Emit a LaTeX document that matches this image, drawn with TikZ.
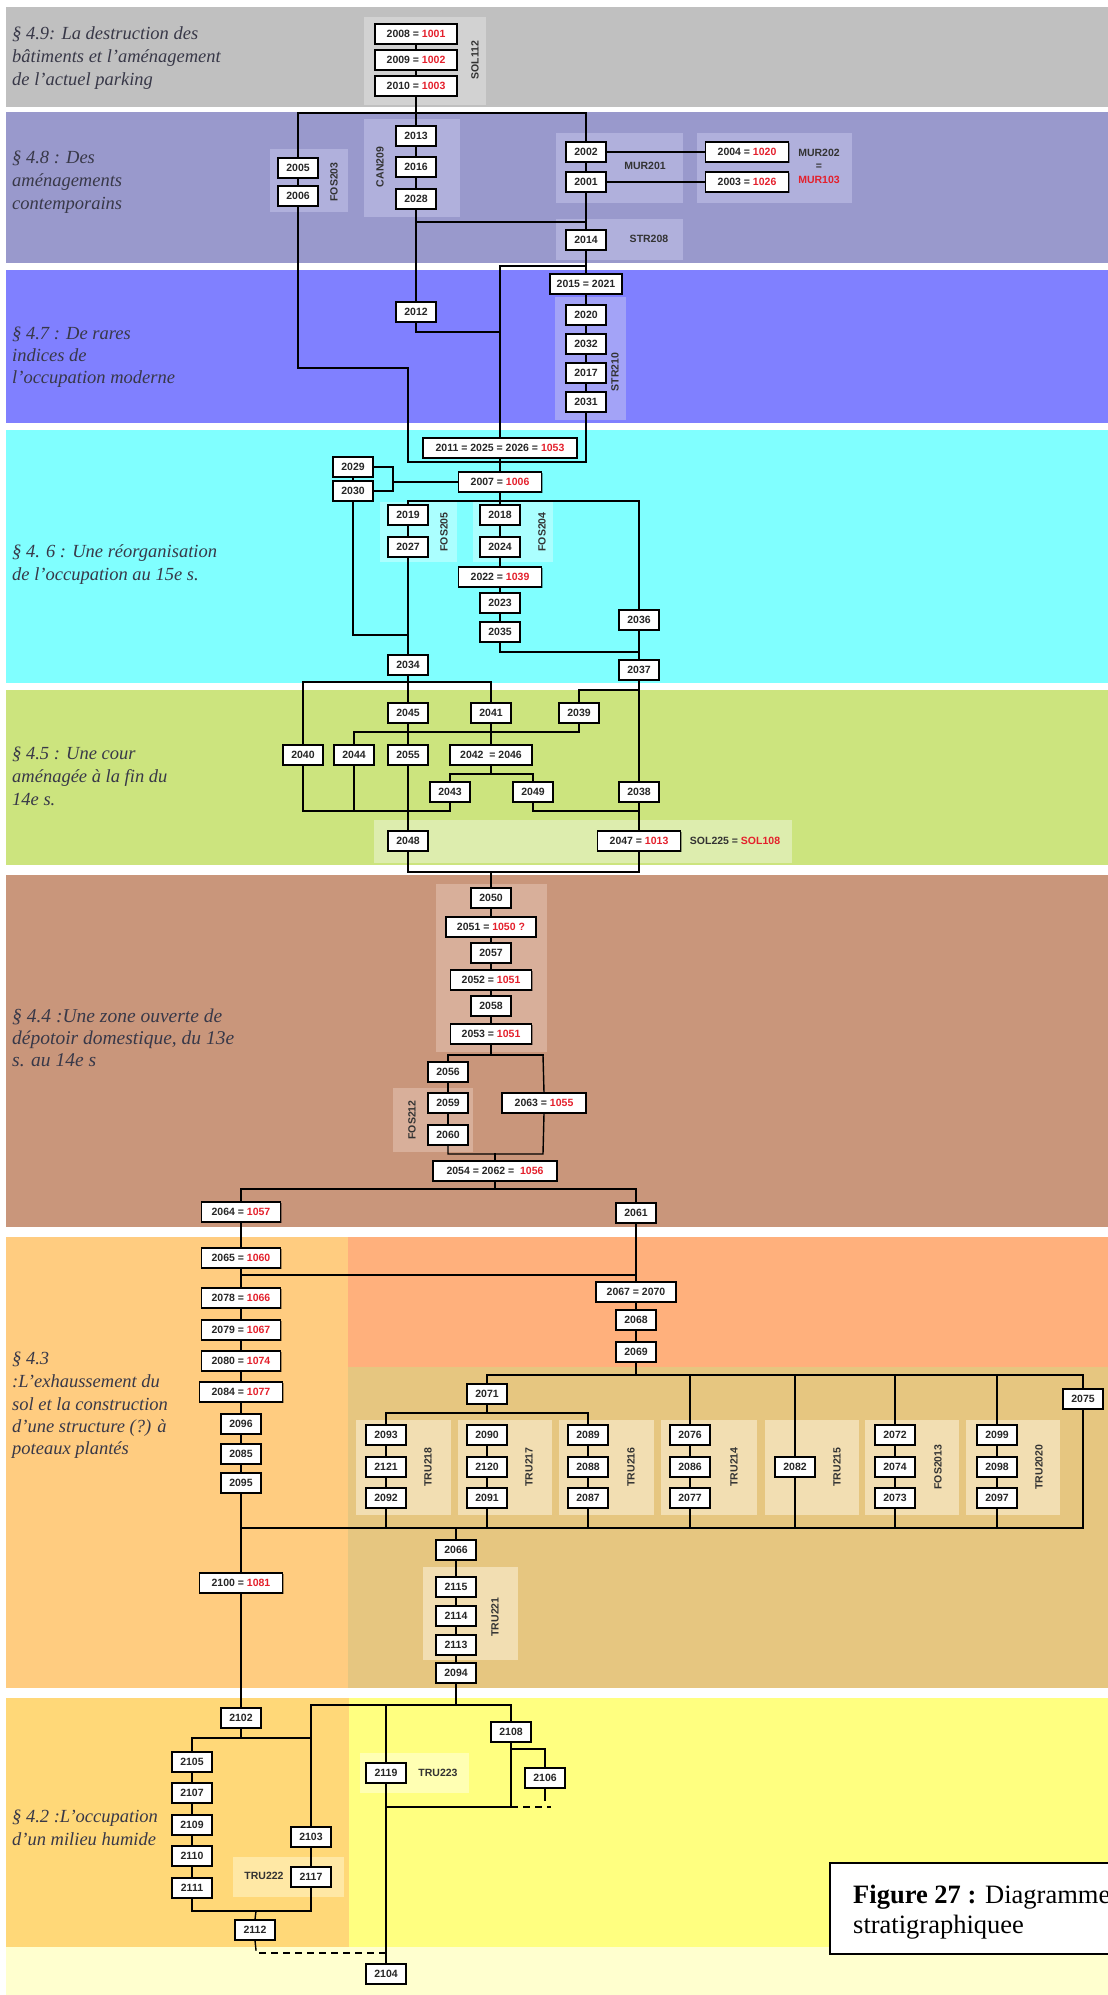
\documentclass[tikz,border=0pt]{standalone}
\usepackage{fontspec}
\setmainfont{Liberation Serif}
\setsansfont{Liberation Sans}
\usetikzlibrary{shadows}
\definecolor{cgrey}{HTML}{C0C0C0}\definecolor{cgreyg}{HTML}{D2D2D2}
\definecolor{cpur}{HTML}{9999CC}\definecolor{cpurg}{HTML}{B0B0DC}
\definecolor{cblue}{HTML}{8080FF}\definecolor{cblueg}{HTML}{A3A3F7}
\definecolor{ccyan}{HTML}{80FFFF}\definecolor{ccyang}{HTML}{ABFFFF}
\definecolor{cgreen}{HTML}{CCE47E}\definecolor{cgreeng}{HTML}{DDEDAE}
\definecolor{cbrown}{HTML}{C9967B}\definecolor{cbrowng}{HTML}{D8AF9A}
\definecolor{corL}{HTML}{FFCC80}\definecolor{corR}{HTML}{FFB07C}
\definecolor{ctan}{HTML}{E6C680}\definecolor{ctang}{HTML}{F2DEB2}
\definecolor{cyelL}{HTML}{FFD878}\definecolor{cyelR}{HTML}{FFFF80}
\definecolor{cyelLg}{HTML}{FFE8A5}\definecolor{cyelRg}{HTML}{FFFFB3}
\definecolor{cpale}{HTML}{FFFFCF}
\definecolor{cred}{HTML}{E4202C}
\definecolor{ctxt}{HTML}{383848}
\newcommand{\rd}[1]{\textcolor{cred}{#1}}
\begin{document}
\begin{tikzpicture}[x=1pt,y=-1pt,
  bx/.style={draw=black, fill=white, line width=1.1pt, minimum height=20pt, minimum width=40pt, inner sep=1pt,
    font=\sffamily\bfseries\fontsize{10.5}{12}\selectfont, text=black!85,
    drop shadow={shadow xshift=1.2pt, shadow yshift=-1.2pt, opacity=0.35, fill=black}},
  ln/.style={line width=1.4pt, line cap=rect},
  tk/.style={line width=2.2pt, line cap=rect},
  dsh/.style={line width=1.6pt, dash pattern=on 7pt off 5pt},
  grl/.style={font=\sffamily\bfseries\fontsize{10.5}{13.5}\selectfont, text=black!80, inner sep=0pt, align=center},
  sect/.style={font=\fontsize{18.5}{23}\selectfont\itshape, text=ctxt, inner sep=0pt, anchor=base west},
  sectb/.style={sect, font=\fontsize{19.5}{23}\selectfont\itshape}]
\useasboundingbox (0,0) rectangle (1108,1995);
\fill[white] (0,0) rectangle (1108,1995);
% ---- bands
\fill[cgrey] (6,7) rectangle (1108,107);
\fill[cpur] (6,112) rectangle (1108,263);
\fill[cblue] (6,270) rectangle (1108,423);
\fill[ccyan] (6,430) rectangle (1108,683);
\fill[cgreen] (6,690) rectangle (1108,865);
\fill[cbrown] (6,875) rectangle (1108,1227);
\fill[corL] (6,1237) rectangle (348,1688);
\fill[corR] (348,1237) rectangle (1108,1367);
\fill[ctan] (348,1367) rectangle (1108,1688);
\fill[cyelL] (6,1698) rectangle (349,1947);
\fill[cyelR] (349,1698) rectangle (1108,1947);
\fill[cpale] (6,1947) rectangle (1108,1995);
% ---- group backgrounds
\fill[cgreyg] (364,17) rectangle (486,105);
\fill[cpurg] (270,149) rectangle (348,212);
\fill[cpurg] (364,119) rectangle (460,217);
\fill[cpurg] (556,133) rectangle (683,203);
\fill[cpurg] (697,133) rectangle (852,203);
\fill[cpurg] (556,219) rectangle (683,260);
\fill[cblueg] (555,297) rectangle (626,420);
\fill[ccyang] (380,502) rectangle (457,562);
\fill[ccyang] (473,502) rectangle (553,562);
\fill[cgreeng] (374,820) rectangle (792,863);
\fill[cbrowng] (436,884) rectangle (547,1052);
\fill[cbrowng] (393,1088) rectangle (473,1152);
\foreach \xa/\xb in {356/451,458/552,559/654,661/757,765/859,865/959,966/1060}
  \fill[ctang] (\xa,1420) rectangle (\xb,1515);
\fill[ctang] (423,1567) rectangle (518,1660);
\fill[cyelLg] (233,1857) rectangle (344,1897);
\fill[cyelRg] (360,1753) rectangle (469,1793);
% ---- section texts
\node[sect] (s9a) at (12,39) {§ 4.9: La destruction des};
\node[sect] (s9b) at (12,62) {bâtiments et l’aménagement};
\node[sect] (s9c) at (12,85) {de l’actuel parking};
\node[sect] (s8a) at (12,163) {§ 4.8 : Des};
\node[sect] (s8b) at (12,186) {aménagements};
\node[sect] (s8c) at (12,209) {contemporains};
\node[sect] (s7a) at (12,339) {§ 4.7 : De rares};
\node[sect] (s7b) at (12,361) {indices de};
\node[sect] (s7c) at (12,383) {l’occupation moderne};
\node[sect] (s6a) at (12,557) {§ 4. 6 : Une réorganisation};
\node[sect] (s6b) at (12,580) {de l’occupation au 15e s.};
\node[sect] (s5a) at (12,759) {§ 4.5 : Une cour};
\node[sect] (s5b) at (12,782) {aménagée à la fin du};
\node[sect] (s5c) at (12,805) {14e s.};
\node[sectb] (s4a) at (12,1022) {§ 4.4 :Une zone ouverte de};
\node[sectb] (s4b) at (12,1044) {dépotoir domestique, du 13e};
\node[sectb] (s4c) at (12,1066) {s. au 14e s};
\node[sect] (s3a) at (12,1364) {§ 4.3};
\node[sect] (s3b) at (12,1387) {:L’exhaussement du};
\node[sect] (s3c) at (12,1410) {sol et la construction};
\node[sect] (s3d) at (12,1432) {d’une structure (?) à};
\node[sect] (s3e) at (12,1454) {poteaux plantés};
\node[sect] (s2a) at (12,1822) {§ 4.2 :L’occupation};
\node[sect] (s2b) at (12,1845) {d’un milieu humide};
% ---- boxes
\node[bx,minimum width=82] (b2008) at (416,34) {2008 = \rd{1001}};
\node[bx,minimum width=82] (b2009) at (416,60) {2009 = \rd{1002}};
\node[bx,minimum width=82] (b2010) at (416,86) {2010 = \rd{1003}};
\node[bx] (b2005) at (298,168) {2005};
\node[bx] (b2006) at (298,196) {2006};
\node[bx] (b2013) at (416,136) {2013};
\node[bx] (b2016) at (416,167) {2016};
\node[bx] (b2028) at (416,199) {2028};
\node[bx] (b2002) at (586,152) {2002};
\node[bx] (b2001) at (586,182) {2001};
\node[bx,minimum width=83] (b2004) at (747,152) {2004 = \rd{1020}};
\node[bx,minimum width=83] (b2003) at (747,182) {2003 = \rd{1026}};
\node[bx] (b2014) at (586,240) {2014};
\node[bx,minimum width=72] (b2015) at (586,284) {2015 = 2021};
\node[bx] (b2012) at (416,312) {2012};
\node[bx] (b2020) at (586,315) {2020};
\node[bx] (b2032) at (586,344) {2032};
\node[bx] (b2017) at (586,373) {2017};
\node[bx] (b2031) at (586,402) {2031};
\node[bx,minimum width=154] (b2011) at (500,448) {2011 = 2025 = 2026 = \rd{1053}};
\node[bx,minimum width=83] (b2007) at (500,482) {2007 = \rd{1006}};
\node[bx] (b2029) at (353,467) {2029};
\node[bx] (b2030) at (353,491) {2030};
\node[bx] (b2019) at (408,515) {2019};
\node[bx] (b2027) at (408,547) {2027};
\node[bx] (b2018) at (500,515) {2018};
\node[bx] (b2024) at (500,547) {2024};
\node[bx,minimum width=83] (b2022) at (500,577) {2022 = \rd{1039}};
\node[bx] (b2023) at (500,603) {2023};
\node[bx] (b2035) at (500,632) {2035};
\node[bx] (b2036) at (639,620) {2036};
\node[bx] (b2037) at (639,670) {2037};
\node[bx] (b2034) at (408,665) {2034};
\node[bx] (b2045) at (408,713) {2045};
\node[bx] (b2041) at (491,713) {2041};
\node[bx] (b2039) at (579,713) {2039};
\node[bx] (b2040) at (303,755) {2040};
\node[bx] (b2044) at (354,755) {2044};
\node[bx] (b2055) at (408,755) {2055};
\node[bx,minimum width=82] (b2042) at (491,755) {2042 \ = 2046};
\node[bx] (b2043) at (450,792) {2043};
\node[bx] (b2049) at (533,792) {2049};
\node[bx] (b2038) at (639,792) {2038};
\node[bx] (b2048) at (408,841) {2048};
\node[bx,minimum width=83] (b2047) at (639,841) {2047 = \rd{1013}};
\node[bx] (b2050) at (491,898) {2050};
\node[bx,minimum width=90] (b2051) at (491,927) {2051 = \rd{1050 ?}};
\node[bx] (b2057) at (491,953) {2057};
\node[bx,minimum width=81] (b2052) at (491,980) {2052 = \rd{1051}};
\node[bx] (b2058) at (491,1006) {2058};
\node[bx,minimum width=81] (b2053) at (491,1034) {2053 = \rd{1051}};
\node[bx] (b2056) at (448,1072) {2056};
\node[bx] (b2059) at (448,1103) {2059};
\node[bx] (b2060) at (448,1135) {2060};
\node[bx,minimum width=84] (b2063) at (544,1103) {2063 = \rd{1055}};
\node[bx,minimum width=124] (b2054) at (495,1171) {2054 = 2062 = \ \rd{1056}};
\node[bx,minimum width=79] (b2064) at (241,1212) {2064 = \rd{1057}};
\node[bx] (b2061) at (636,1213) {2061};
\node[bx,minimum width=79] (b2065) at (241,1258) {2065 = \rd{1060}};
\node[bx,minimum width=79] (b2078) at (241,1298) {2078 = \rd{1066}};
\node[bx,minimum width=79] (b2079) at (241,1330) {2079 = \rd{1067}};
\node[bx,minimum width=79] (b2080) at (241,1361) {2080 = \rd{1074}};
\node[bx,minimum width=83] (b2084) at (241,1392) {2084 = \rd{1077}};
\node[bx] (b2096) at (241,1424) {2096};
\node[bx] (b2085) at (241,1454) {2085};
\node[bx] (b2095) at (241,1483) {2095};
\node[bx,minimum width=83] (b2100) at (241,1583) {2100 = \rd{1081}};
\node[bx,minimum width=80] (b2067) at (636,1292) {2067 = 2070};
\node[bx] (b2068) at (636,1320) {2068};
\node[bx] (b2069) at (636,1352) {2069};
\node[bx] (b2071) at (487,1394) {2071};
\node[bx] (b2075) at (1083,1399) {2075};
\node[bx] (b2082) at (795,1467) {2082};
\foreach \x/\a/\b/\c in {386/2093/2121/2092,487/2090/2120/2091,588/2089/2088/2087,690/2076/2086/2077,895/2072/2074/2073,997/2099/2098/2097}{
  \node[bx] (b\a) at (\x,1435) {\a};
  \node[bx] (b\b) at (\x,1467) {\b};
  \node[bx] (b\c) at (\x,1498) {\c};
  \draw[ln] (b\a.south) -- (b\b.north);
  \draw[ln] (b\b.south) -- (b\c.north);
  \draw[ln] (b\c.south) -- (\x,1528);
}
\node[bx] (b2066) at (456,1550) {2066};
\node[bx] (b2115) at (456,1587) {2115};
\node[bx] (b2114) at (456,1616) {2114};
\node[bx] (b2113) at (456,1645) {2113};
\node[bx] (b2094) at (456,1673) {2094};
\node[bx] (b2102) at (241,1718) {2102};
\node[bx] (b2108) at (511,1732) {2108};
\node[bx] (b2105) at (192,1762) {2105};
\node[bx] (b2107) at (192,1793) {2107};
\node[bx] (b2109) at (192,1825) {2109};
\node[bx] (b2110) at (192,1856) {2110};
\node[bx] (b2111) at (192,1888) {2111};
\node[bx] (b2103) at (311,1837) {2103};
\node[bx] (b2117) at (311,1877) {2117};
\node[bx] (b2112) at (255,1930) {2112};
\node[bx] (b2119) at (386,1773) {2119};
\node[bx] (b2106) at (545,1778) {2106};
\node[bx] (b2104) at (386,1974) {2104};
% ---- chains (box to box)
\foreach \a/\b in {2008/2009,2009/2010,2005/2006,2013/2016,2016/2028,2028/2012,2002/2001,2001/2014,2014/2015,
  2015/2020,2020/2032,2032/2017,2017/2031,2011/2007,2029/2030,2019/2027,2027/2034,2007/2018,2018/2024,2024/2022,
  2022/2023,2023/2035,2036/2037,2037/2038,2038/2047,2045/2055,2055/2048,2041/2042,2050/2051,2051/2057,2057/2052,
  2052/2058,2058/2053,2056/2059,2059/2060,2064/2065,2065/2078,2078/2079,2079/2080,2080/2084,2084/2096,2096/2085,
  2085/2095,2095/2100,2100/2102,2061/2067,2067/2068,2068/2069,2115/2114,2114/2113,2113/2094,
  2105/2107,2107/2109,2109/2110,2110/2111,2103/2117}
  \draw[ln] (b\a.south) -- (b\b.north);
% ---- connectors
\coordinate (t1) at (416,113);
\draw[ln] (b2010.south) -- (t1) -- (b2013.north);
\draw[ln] (b2005.north|-t1) -- (b2002.north|-t1);
\draw[ln] (b2005.north|-t1) -- (b2005.north);
\draw[ln] (b2002.north|-t1) -- (b2002.north);
\draw[ln] (b2002.east) -- (b2004.west);
\draw[ln] (b2001.east) -- (b2003.west);
\coordinate (j1) at (416,222); \coordinate (j2) at (586,222);
\draw[ln] (j1) -- (j2);
\coordinate (j3) at (586,266); \coordinate (j4) at (500,266);
\draw[ln] (j3) -- (j4) -- (b2011.north);
\coordinate (j5) at (416,332); \coordinate (j6) at (500,332);
\draw[ln] (b2012.south) -- (j5) -- (j6);
\draw[ln] (b2006.south) -- (298,368) -- (408,368) -- (408,462) -- (586,462) -- (b2031.south);
\coordinate (k1) at (393,482);
\draw[ln] (b2029.east) -- (393,467) -- (393,491) -- (b2030.east);
\draw[ln] (k1) -- (b2007.west);
\draw[ln] (b2030.south) -- (353,635) -- (408,635);
\coordinate (k2) at (408,501); \coordinate (k3) at (639,501);
\draw[ln] (k2) -- (k3);
\draw[ln] (k2) -- (b2019.north);
\draw[ln] (k3) -- (b2036.north);
\draw[ln] (b2035.south) -- (500,652) -- (639,652);
\coordinate (g1) at (303,682); \coordinate (g2) at (491,682);
\draw[ln] (b2034.south) -- (408,682);
\draw[ln] (g1) -- (g2);
\draw[ln] (g1) -- (b2040.north);
\draw[ln] (408,682) -- (b2045.north);
\draw[ln] (g2) -- (b2041.north);
\draw[ln] (639,690) -- (579,690) -- (b2039.north);
\draw[ln] (b2039.south) -- (579,732) -- (354,732) -- (b2044.north);
\draw[ln] (b2042.south) -- (491,774);
\draw[ln] (450,774) -- (533,774);
\draw[ln] (450,774) -- (b2043.north);
\draw[ln] (533,774) -- (b2049.north);
\draw[ln] (b2040.south) -- (303,811) -- (450,811) -- (b2043.south);
\draw[ln] (b2044.south) -- (354,811);
\draw[ln] (b2049.south) -- (533,811) -- (639,811);
\draw[ln] (b2048.south) -- (408,872) -- (639,872) -- (b2047.south);
\draw[ln] (491,872) -- (b2050.north);
\draw[ln] (b2053.south) -- (491,1055);
\draw[ln] (448,1055) -- (543,1055);
\draw[ln] (448,1055) -- (b2056.north);
\draw[ln] (543,1055) -- (b2063.north);
\draw[ln] (b2060.south) -- (448,1154) -- (543,1154) -- (b2063.south);
\draw[ln] (495,1154) -- (b2054.north);
\draw[ln] (b2054.south) -- (495,1189);
\draw[ln] (241,1189) -- (636,1189);
\draw[ln] (241,1189) -- (b2064.north);
\draw[ln] (636,1189) -- (b2061.north);
\draw[ln] (241,1275) -- (636,1275);
\draw[tk] (b2069.south) -- (636,1375);
\draw[ln] (487,1375) -- (636,1375);
\draw[tk] (636,1375) -- (1083,1375);
\draw[ln] (487,1375) -- (b2071.north);
\foreach \x/\n in {690/2076,795/2082,895/2072,997/2099,1083/2075}
  \draw[ln] (\x,1375) -- (b\n.north);
\draw[ln] (b2071.south) -- (487,1413);
\draw[ln] (386,1413) -- (588,1413);
\draw[ln] (386,1413) -- (b2093.north);
\draw[ln] (588,1413) -- (b2089.north);
\draw[ln] (b2082.south) -- (795,1528);
\draw[ln] (b2075.south) -- (1083,1528);
\draw[ln] (241,1528) -- (456,1528);
\draw[tk] (456,1528) -- (1083,1528);
\draw[tk] (456,1528) -- (b2066.north);
\draw[ln] (b2066.south) -- (b2115.north);
\draw[tk] (b2094.south) -- (456,1705);
\draw[ln] (311,1705) -- (511,1705);
\draw[ln] (311,1705) -- (b2103.north);
\draw[ln] (386,1705) -- (b2119.north);
\draw[ln] (511,1705) -- (b2108.north);
\draw[ln] (b2102.south) -- (241,1738);
\draw[ln] (192,1738) -- (311,1738);
\draw[ln] (192,1738) -- (b2105.north);
\draw[ln] (b2111.south) -- (192,1911) -- (311,1911) -- (b2117.south);
\draw[ln] (256,1911) -- (b2112.north);
\draw[ln] (b2112.south) -- (256,1950);
\draw[dsh] (259,1953) -- (386,1953);
\draw[tk] (b2119.south) -- (b2104.north);
\draw[ln] (b2108.south) -- (511,1807) -- (386,1807);
\draw[dsh] (511,1807) -- (551,1807);
\draw[ln] (511,1749) -- (545,1749) -- (b2106.north);
\draw[ln] (b2106.south) -- (545,1800);
% ---- group labels
\node[grl,rotate=90] (lSOL112) at (475,60) {SOL112};
\node[grl,rotate=90] (lFOS203) at (334,182) {FOS203};
\node[grl,rotate=90] (lCAN209) at (380,167) {CAN209};
\node[grl] (lMUR201) at (645,166) {MUR201};
\node[grl] (lMUR202) at (819,166) {MUR202\\=\\\rd{MUR103}};
\node[grl] (lSTR208) at (649,239) {STR208};
\node[grl,rotate=90] (lSTR210) at (615,372) {STR210};
\node[grl,rotate=90] (lFOS205) at (444,532) {FOS205};
\node[grl,rotate=90] (lFOS204) at (542,532) {FOS204};
\node[grl] (lSOL225) at (735,841) {SOL225 = \rd{SOL108}};
\node[grl,rotate=90] (lFOS212) at (412,1120) {FOS212};
\node[grl,rotate=90] (lTRU218) at (428,1467) {TRU218};
\node[grl,rotate=90] (lTRU217) at (529,1467) {TRU217};
\node[grl,rotate=90] (lTRU216) at (631,1467) {TRU216};
\node[grl,rotate=90] (lTRU214) at (734,1467) {TRU214};
\node[grl,rotate=90] (lTRU215) at (837,1467) {TRU215};
\node[grl,rotate=90] (lFOS2013) at (938,1467) {FOS2013};
\node[grl,rotate=90] (lTRU2020) at (1039,1467) {TRU2020};
\node[grl,rotate=90] (lTRU221) at (495,1617) {TRU221};
\node[grl] (lTRU222) at (264,1876) {TRU222};
\node[grl] (lTRU223) at (438,1773) {TRU223};
% ---- caption
\draw[fill=white, line width=1.4pt] (830,1863) rectangle (1125,1954);
\node[anchor=base west, inner sep=0pt, font=\fontsize{26.5}{30}\selectfont] (cap1) at (853,1903) {\textbf{Figure 27 :} Diagramme};
\node[anchor=base west, inner sep=0pt, font=\fontsize{26.5}{30}\selectfont] (cap2) at (853,1933) {stratigraphiquee};
\end{tikzpicture}
\end{document}
